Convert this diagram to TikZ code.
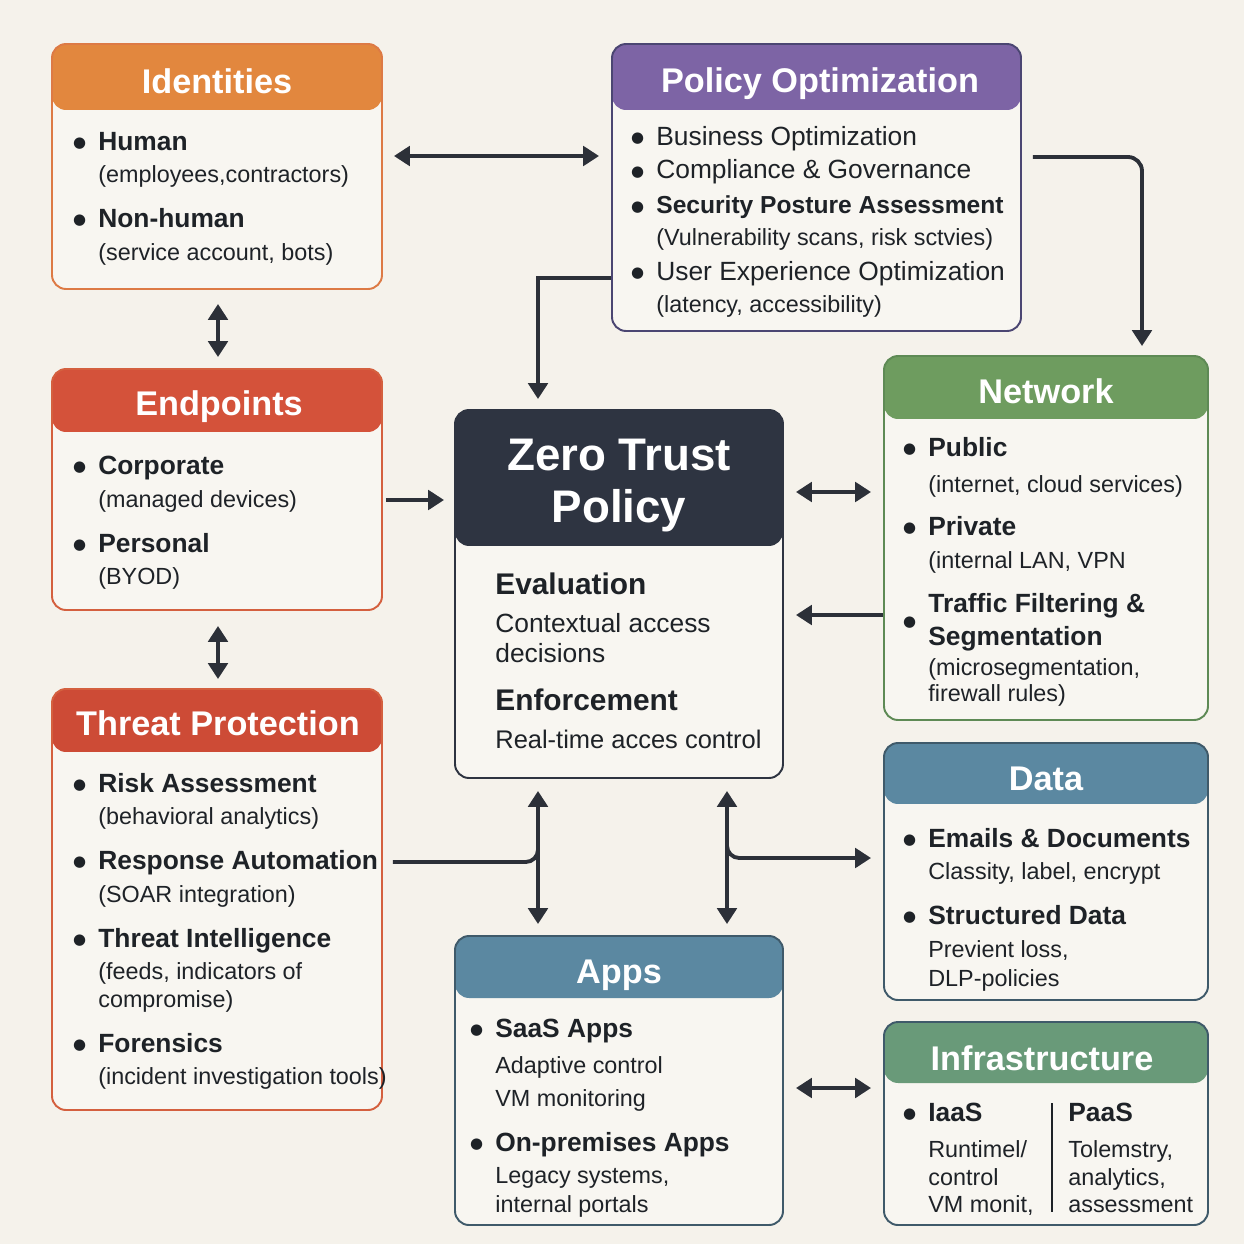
\documentclass[tikz,border=0pt]{standalone}
\usepackage{fontspec}
\setmainfont{Liberation Sans}
\newfontfamily\symfont{DejaVu Sans}
\usetikzlibrary{positioning, fit, calc, arrows.meta}
\definecolor{bgcol}{HTML}{F5F2EB}
\definecolor{cardbg}{HTML}{F8F6F1}
\definecolor{idcol}{HTML}{E2873E}
\definecolor{idline}{HTML}{DD7A45}
\definecolor{polcol}{HTML}{7D64A5}
\definecolor{polline}{HTML}{4B4672}
\definecolor{endcol}{HTML}{D4523A}
\definecolor{endline}{HTML}{D4603F}
\definecolor{thrcol}{HTML}{CD4B36}
\definecolor{ztcol}{HTML}{2E3441}
\definecolor{netcol}{HTML}{6E9C5F}
\definecolor{netline}{HTML}{5E8A55}
\definecolor{datcol}{HTML}{5B88A1}
\definecolor{slateline}{HTML}{3F5A6A}
\definecolor{infcol}{HTML}{699A79}
\definecolor{ink}{HTML}{1E2227}
\definecolor{ink2}{HTML}{2C3038}
\newcommand{\dotmark}[1]{\llap{\raisebox{#1}[0pt][0pt]{\symfont\fontsize{8.5}{8.5}\selectfont ●}\hspace{7pt}}}
\newcommand{\bul}{\dotmark{1.6pt}}
\newcommand{\sub}[1]{{\fontsize{13.3}{18.5}\selectfont #1}}

\begin{document}
\begin{tikzpicture}[x=0.02cm, y=-0.02cm,
	card/.style n args={3}{draw=#1, fill=cardbg, line width=1.1pt, rounded corners=8pt, inner sep=0pt,
		path picture={\fill[#2] (path picture bounding box.north west) rectangle ([yshift=-#3]path picture bounding box.north east);}},
	title/.style={anchor=base, text=white, font=\fontsize{19.5}{23}\selectfont\bfseries},
	body/.style={anchor=north west, align=left, inner sep=0pt, text=ink, font=\fontsize{15}{18.5}\selectfont},
	link/.style={draw=ink2, line width=2.2pt},
	onearrow/.style={link, -{Triangle[length=9pt,width=11pt]}},
	biarrow/.style={link, {Triangle[length=9pt,width=11pt]}-{Triangle[length=9pt,width=11pt]}}]
	% Background
	\fill[bgcol] (0,0) rectangle (1244,1244);
	\useasboundingbox (0,0) rectangle (1244,1244);
	% Identities
	\node[card={idline}{idcol}{1.32cm}, fit={(52,44) (382,289)}] (ident) {};
	\node[title] (identtitle) at (217,93) {Identities};
	\node[body] (identbody) at (98,132) {\bul\textbf{Human}\\ \sub{(employees,contractors)}\\[7pt]
		\bul\textbf{Non-human}\\ \sub{(service account, bots)}};
	% Policy Optimization
	\node[card={polline}{polcol}{1.32cm}, fit={(612,44) (1021,331)}] (policy) {};
	\node[title] (policytitle) at (820,92) {Policy Optimization};
	\node[body, font=\fontsize{15}{19}\selectfont] (policybody) at (656,126) {\bul Business Optimization\\
		\bul Compliance \& Governance\\[1pt]
		\bul{\fontsize{14}{19}\selectfont\bfseries Security Posture Assessment}\\[-1pt]
		\sub{(Vulnerability scans, risk sctvies)}\\[1pt]
		\bul User Experience Optimization\\[-1pt]
		\sub{(latency, accessibility)}};
	% Endpoints
	\node[card={endline}{endcol}{1.26cm}, fit={(52,369) (382,610)}] (endp) {};
	\node[title] (endptitle) at (219,415) {Endpoints};
	\node[body] (endpbody) at (98,456) {\bul\textbf{Corporate}\\ \sub{(managed devices)}\\[7pt]
		\bul\textbf{Personal}\\ \sub{(BYOD)}};
	% Threat Protection
	\node[card={endline}{thrcol}{1.26cm}, fit={(52,689) (382,1110)}] (thr) {};
	\node[title] (thrtitle) at (218,735) {Threat Protection};
	\node[body] (thrbody) at (98,773) {\bul\textbf{Risk Assessment}\\ \sub{(behavioral analytics)}\\[7pt]
		\bul\textbf{Response Automation}\\ \sub{(SOAR integration)}\\[7pt]
		\bul\textbf{Threat Intelligence}\\ \sub{(feeds, indicators of}\\[-2.5pt] \sub{compromise)}\\[7pt]
		\bul\textbf{Forensics}\\ \sub{(incident investigation tools)}};
	% Zero Trust Policy
	\node[card={ztcol}{ztcol}{2.72cm}, fit={(455,410) (783,778)}] (zt) {};
	\node[title, align=center, font=\fontsize{26}{29.5}\selectfont\bfseries] (zttitle) at (619,522) {Zero Trust\\Policy};
	\node[body, font=\fontsize{15}{17}\selectfont] (ztbody) at (495,572) {{\fontsize{17}{20}\selectfont\bfseries Evaluation}\\[5pt]
		Contextual access\\ decisions\\[10.5pt]
		{\fontsize{17}{20}\selectfont\bfseries Enforcement}\\[4.5pt]
		{\fontsize{14.5}{17}\selectfont Real-time acces control}};
	% Network
	\node[card={netline}{netcol}{1.26cm}, fit={(884,356) (1208,720)}] (net) {};
	\node[title] (nettitle) at (1046,403) {Network};
	\node[body] (netbody) at (928,437) {\bul\textbf{Public}\\[2pt] \sub{(internet, cloud services)}\\[6pt]
		\bul\textbf{Private}\\ \sub{(internal LAN, VPN}\\[7pt]
		\dotmark{-8pt}\textbf{Traffic Filtering \&}\\ \textbf{Segmentation}\\[-1.5pt]
		\sub{(microsegmentation,}\\[-3.5pt] \sub{firewall rules)}};
	% Data
	\node[card={slateline}{datcol}{1.22cm}, fit={(884,743) (1208,1000)}] (data) {};
	\node[title] (datatitle) at (1046,790) {Data};
	\node[body] (databody) at (928,828) {\bul\textbf{Emails \& Documents}\\ \sub{Classity, label, encrypt}\\[7pt]
		\bul\textbf{Structured Data}\\ \sub{Previent loss,}\\[-2pt] \sub{DLP-policies}};
	% Apps
	\node[card={slateline}{datcol}{1.24cm}, fit={(455,936) (783,1225)}] (apps) {};
	\node[title] (appstitle) at (619,983) {Apps};
	\node[body] (appsbody) at (495,1019) {\bul\textbf{SaaS Apps}\\[2pt] \sub{Adaptive control}\\ \sub{VM monitoring}\\[7pt]
		\bul\textbf{On-premises Apps}\\ \sub{Legacy systems,}\\[-2pt] \sub{internal portals}};
	% Infrastructure
	\node[card={slateline}{infcol}{1.22cm}, fit={(884,1022) (1208,1225)}] (infra) {};
	\node[title] (infratitle) at (1042,1070) {Infrastructure};
	\node[body] (iaas) at (928,1103) {\bul\textbf{IaaS}\\[2pt] \sub{Runtimel/}\\[-2.6pt] \sub{control}\\[-3pt] \sub{VM monit,}};
	\node[body] (paas) at (1068,1103) {\textbf{PaaS}\\[2pt] \sub{Tolemstry,}\\[-2.6pt] \sub{analytics,}\\[-3pt] \sub{assessment}};
	\draw[ink, line width=1.6pt] (1052,1103) -- (1052,1212);
	% Connectors
	\draw[biarrow] ($(ident.east)+(11,-10.5)$) coordinate (a1) -- ($(policy.west |- a1)+(-12,0)$);
	\draw[onearrow] ($(policy.south west)+(0,-54)$) -| ($(zt.north)+(-81,-10)$);
	\draw[onearrow, rounded corners=8pt] ($(policy.east)+(11,-30.5)$) -| ($(net.north)+(96,-9)$);
	\draw[biarrow] ($(ident.south)+(1,14)$) -- ($(endp.north)+(1,-11)$);
	\draw[onearrow] ($(endp.east)+(3,10.5)$) coordinate (a2) -- ($(zt.west |- a2)+(-10,0)$);
	\draw[biarrow] ($(endp.south)+(1,15)$) -- ($(thr.north)+(1,-9)$);
	\draw[biarrow] ($(zt.east)+(12,-102)$) coordinate (a3) -- ($(net.west |- a3)+(-12,0)$);
	\draw[onearrow] ($(net.west)+(0,77)$) coordinate (a4) -- ($(zt.east |- a4)+(12,0)$);
	\draw[biarrow] ($(zt.south)+(-81,12)$) -- ($(apps.north)+(-81,-11)$);
	\draw[link, rounded corners=7pt] ($(thr.east)+(10,-37.5)$) -| ($(zt.south)+(-81,57)$);
	\draw[biarrow] ($(zt.south)+(108,12)$) -- ($(apps.north)+(108,-11)$);
	\draw[onearrow, rounded corners=7pt] ($(zt.south)+(108,57)$) |- ($(data.west)+(-12,-13.5)$);
	\draw[biarrow] ($(apps.east)+(12,7.5)$) coordinate (a5) -- ($(infra.west |- a5)+(-12,0)$);
\end{tikzpicture}
\end{document}
